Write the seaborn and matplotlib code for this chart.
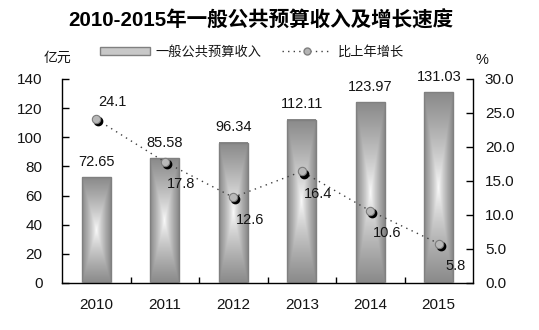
import numpy as np
import pandas as pd
import matplotlib
matplotlib.use("Agg")
import matplotlib.pyplot as plt
import seaborn as sns
from matplotlib.patches import Patch
from matplotlib.lines import Line2D
from matplotlib.transforms import ScaledTranslation

# ---- data ----
years = ["2010", "2011", "2012", "2013", "2014", "2015"]
revenue = [72.65, 85.58, 96.34, 112.11, 123.97, 131.03]
growth = [24.1, 17.8, 12.6, 16.4, 10.6, 5.8]
left_ticks = [0, 20, 40, 60, 80, 100, 120, 140]
right_ticks = [0, 5, 10, 15, 20, 25, 30]
title = "2010-2015年一般公共预算收入及增长速度"
bar_name = "一般公共预算收入"
line_name = "比上年增长"
left_unit = "亿元"
right_unit = "%"

sns.set_theme(style="white")
plt.rcParams['font.family'] = ['Liberation Sans', 'Noto Sans CJK SC', 'DejaVu Sans']
TXT = "#141414"

df = pd.DataFrame({"year": years, "revenue": revenue, "growth": growth})

W, H = 539, 330
fig = plt.figure(figsize=(W / 100, H / 100), dpi=100)
ax = fig.add_axes([62 / W, 1 - 283 / H, 411 / W, 204 / H])

sns.barplot(data=df, x="year", y="revenue", ax=ax, width=0.42, color="#c0c0c0",
            saturation=1, edgecolor="#808080", linewidth=1, errorbar=None)

# gradient fill for each bar (rectangular gradient from centre)
nx, ny = 60, 200
u = np.linspace(-1, 1, nx)
v = np.linspace(-1, 1, ny)
U, V = np.meshgrid(u, v)
t = np.maximum(np.abs(U), np.abs(V))
vals = 0.99 - 0.45 * t ** 0.8
img = np.dstack([vals, vals, vals])
for p in ax.patches:
    x0, y0, w, h = p.get_x(), p.get_y(), p.get_width(), p.get_height()
    ax.imshow(img, extent=(x0, x0 + w, y0, y0 + h), aspect="auto", origin="lower",
              interpolation="bilinear", zorder=2)
    p.set_facecolor("none")
    p.set_zorder(3)

ax.set_xlim(-0.5, len(years) - 0.5)
ax.set_ylim(0, 140)
ax.set_yticks(left_ticks)
ax.set_yticklabels([str(v) for v in left_ticks])
ax.set_xlabel("")
ax.set_ylabel("")
ax.tick_params(axis="y", direction="in", length=5, width=1, pad=14, labelsize=11,
               labelcolor=TXT, color="black", left=True)
ax.tick_params(axis="x", which="major", length=0, pad=11, labelsize=11, labelcolor=TXT)
ax.set_xticks(np.arange(0.5, len(years) - 1, 1), minor=True)
ax.tick_params(axis="x", which="minor", direction="in", length=4, width=1, color="black", bottom=True)
for s in ["top", "right"]:
    ax.spines[s].set_visible(False)
for s in ["left", "bottom"]:
    ax.spines[s].set_color("black")
    ax.spines[s].set_linewidth(1)

# bar value labels
for p, val in zip(ax.patches, revenue):
    ax.annotate(f"{val:.2f}", (p.get_x() + p.get_width() / 2, p.get_height()),
                xytext=(0, 11), textcoords="offset points", ha="center", va="center",
                fontsize=10.5, color=TXT, zorder=5)

# growth line on twin axis (dotted line via seaborn)
ax2 = ax.twinx()
sns.pointplot(data=df, x="year", y="growth", ax=ax2, color="#404040", linestyles=":",
              markers="", errorbar=None, linewidth=1)
main = ax2.lines[-1]
main.set_dashes((1, 3.2))
main.set_zorder(2)
xs, ys = main.get_xdata(), main.get_ydata()

# marker shadow + marker at the line's own positions
sh, = ax2.plot(xs, ys, linestyle="none", marker="o", markersize=6, color="black",
               markeredgecolor="black", zorder=3)
sh.set_transform(sh.get_transform() + ScaledTranslation(1.6 / 72, -1.5 / 72, fig.dpi_scale_trans))
ax2.plot(xs, ys, linestyle="none", marker="o", markersize=6, markerfacecolor="#b8b8b8",
         markeredgecolor="#7c7c7c", markeredgewidth=0.8, zorder=4)

ax2.set_ylim(0, 30)
ax2.set_xlim(-0.5, len(years) - 0.5)
ax2.set_yticks(right_ticks)
ax2.set_yticklabels([f"{v:.1f}" for v in right_ticks])
ax2.set_ylabel("")
ax2.set_xlabel("")
ax2.tick_params(axis="y", direction="in", length=5, width=1, pad=8.6, labelsize=11,
                labelcolor=TXT, color="black", right=True)
for s in ["top", "left", "bottom"]:
    ax2.spines[s].set_visible(False)
ax2.spines["right"].set_color("black")
ax2.spines["right"].set_linewidth(1)

for i, g in enumerate(growth):
    off = (11.5, 12) if i == 0 else (12, -16)
    ax2.annotate(f"{g:.1f}", (i, g), xytext=off, textcoords="offset points",
                 ha="center", va="center", fontsize=10.5, color=TXT, zorder=5)

# legend
handles = [Patch(facecolor="#c8c8c8", edgecolor="#808080", linewidth=1),
           Line2D([], [], color="#404040", linestyle=(0, (1, 3)), linewidth=1, marker="o",
                  markerfacecolor="#b4b4b4", markeredgecolor="#808080", markersize=5)]
fig.legend(handles, [bar_name, line_name], loc="center", bbox_to_anchor=(0.4675, 1 - 52 / H),
           ncol=2, frameon=False, fontsize=9.5, handlelength=3.8, handleheight=0.55,
           columnspacing=1.5, handletextpad=0.45, labelcolor=TXT)

fig.text(0.483, 1 - 20 / H, title, ha="center", va="center", fontsize=14.8,
         fontweight="bold", color="black")
fig.text(57 / W, 1 - 58 / H, left_unit, ha="center", va="center", fontsize=10, color=TXT)
fig.text(482 / W, 1 - 60 / H, right_unit, ha="center", va="center", fontsize=10.5, color=TXT)

fig.savefig("out.png", dpi=100)
